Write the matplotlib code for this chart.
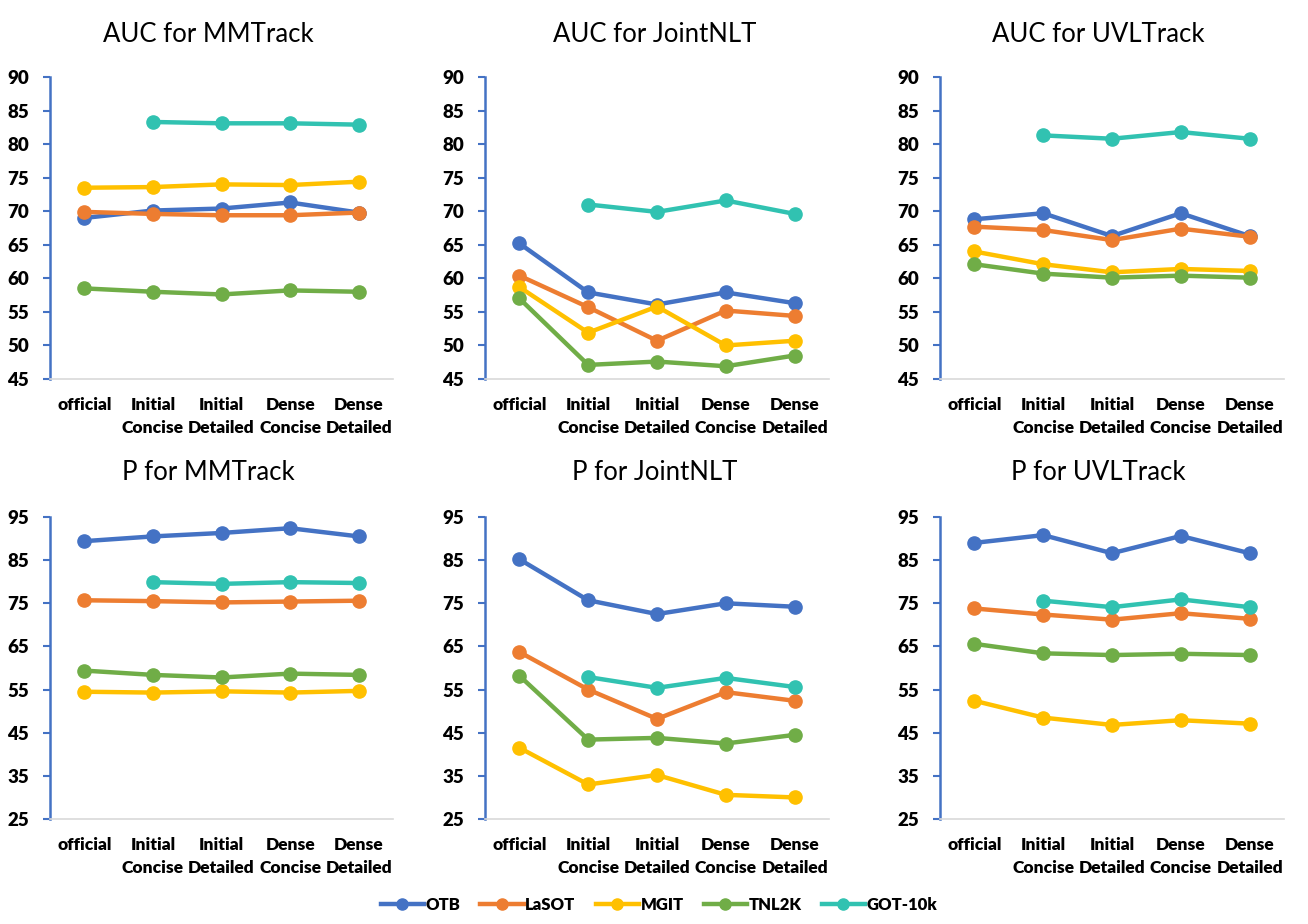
import numpy as np
import matplotlib
matplotlib.use("Agg")
import matplotlib.pyplot as plt
from matplotlib.lines import Line2D

plt.rcParams['font.family'] = ['Lato', 'DejaVu Sans']

categories = ["official", "Initial\nConcise", "Initial\nDetailed", "Dense\nConcise", "Dense\nDetailed"]
series = ["OTB", "LaSOT", "MGIT", "TNL2K", "GOT-10k"]
colors = ["#4472C4", "#ED7D31", "#FFC000", "#70AD47", "#31C2B1"]
nan = np.nan

# AUC values
auc_mmtrack = {
    "OTB":     [69.0, 70.1, 70.4, 71.3, 69.8],
    "LaSOT":   [69.9, 69.6, 69.4, 69.4, 69.8],
    "MGIT":    [73.5, 73.6, 74.0, 73.9, 74.4],
    "TNL2K":   [58.5, 58.0, 57.6, 58.2, 58.0],
    "GOT-10k": [nan, 83.3, 83.1, 83.1, 82.9],
}
auc_jointnlt = {
    "OTB":     [65.2, 57.9, 56.1, 57.9, 56.3],
    "LaSOT":   [60.4, 55.7, 50.7, 55.2, 54.4],
    "MGIT":    [58.7, 51.9, 55.8, 50.0, 50.7],
    "TNL2K":   [57.0, 47.1, 47.6, 46.9, 48.5],
    "GOT-10k": [nan, 71.0, 69.9, 71.6, 69.6],
}
auc_uvltrack = {
    "OTB":     [68.8, 69.7, 66.3, 69.7, 66.3],
    "LaSOT":   [67.7, 67.2, 65.7, 67.4, 66.2],
    "MGIT":    [64.0, 62.1, 60.9, 61.4, 61.1],
    "TNL2K":   [62.1, 60.7, 60.1, 60.4, 60.1],
    "GOT-10k": [nan, 81.3, 80.8, 81.8, 80.8],
}
# Precision values
p_mmtrack = {
    "OTB":     [89.4, 90.5, 91.3, 92.4, 90.5],
    "LaSOT":   [75.7, 75.5, 75.2, 75.4, 75.6],
    "MGIT":    [54.5, 54.3, 54.6, 54.3, 54.7],
    "TNL2K":   [59.4, 58.4, 57.8, 58.7, 58.4],
    "GOT-10k": [nan, 79.9, 79.5, 79.9, 79.7],
}
p_jointnlt = {
    "OTB":     [85.2, 75.7, 72.5, 75.0, 74.2],
    "LaSOT":   [63.7, 55.0, 48.2, 54.4, 52.4],
    "MGIT":    [41.5, 33.0, 35.2, 30.6, 30.0],
    "TNL2K":   [58.2, 43.4, 43.8, 42.5, 44.5],
    "GOT-10k": [nan, 57.9, 55.4, 57.7, 55.6],
}
p_uvltrack = {
    "OTB":     [89.0, 90.8, 86.6, 90.6, 86.6],
    "LaSOT":   [73.8, 72.4, 71.2, 72.7, 71.4],
    "MGIT":    [52.4, 48.5, 46.8, 47.9, 47.1],
    "TNL2K":   [65.6, 63.4, 63.0, 63.3, 63.0],
    "GOT-10k": [nan, 75.6, 74.1, 75.9, 74.1],
}

W, H = 1308, 924
fig = plt.figure(figsize=(W / 100, H / 100), dpi=100)

panels = [
    ("AUC for MMTrack", auc_mmtrack, 50, 393, 77, 379, (45, 90, 5), 208, 35),
    ("AUC for JointNLT", auc_jointnlt, 485, 829, 77, 379, (45, 90, 5), 655, 35),
    ("AUC for UVLTrack", auc_uvltrack, 940, 1284, 77, 379, (45, 90, 5), 1098, 35),
    ("P for MMTrack", p_mmtrack, 50, 393, 517, 819, (25, 95, 10), 208, 473),
    ("P for JointNLT", p_jointnlt, 485, 829, 517, 819, (25, 95, 10), 655, 473),
    ("P for UVLTrack", p_uvltrack, 940, 1284, 517, 819, (25, 95, 10), 1098, 473),
]

x = np.arange(len(categories))
for title, data, l, r, t, b, (lo, hi, step), tx, ty in panels:
    ax = fig.add_axes([l / W, 1 - b / H, (r - l) / W, (b - t) / H])
    for name, c in zip(series, colors):
        ax.plot(x, data[name], color=c, lw=3.2, marker='o', ms=9.5,
                solid_capstyle='round')
    ax.set_xlim(-0.5, len(categories) - 0.5)
    ax.set_ylim(lo, hi)
    ax.set_yticks(np.arange(lo, hi + 1, step))
    ax.set_xticks(x)
    ax.set_xticklabels(categories, fontsize=12.5, fontweight='heavy', linespacing=1.5)
    for lab in ax.get_yticklabels():
        lab.set_fontsize(13.5)
        lab.set_fontweight('heavy')
    for s in ['top', 'right']:
        ax.spines[s].set_visible(False)
    ax.spines['left'].set_color('#4472C4')
    ax.spines['left'].set_linewidth(1.8)
    ax.spines['bottom'].set_color('#D9D9D9')
    ax.spines['bottom'].set_linewidth(1.2)
    ax.tick_params(axis='y', color='#4472C4', length=5, width=1.5, pad=10)
    ax.tick_params(axis='x', length=0, pad=13)
    fig.text(tx / W, 1 - ty / H, title, ha='center', va='center', fontsize=18.5)

handles = [Line2D([0], [0], color=c, lw=3.2, marker='o', ms=8) for c in colors]
fig.legend(handles, series, loc='center', bbox_to_anchor=(659 / W, 1 - 905 / H),
           ncol=5, frameon=False, handlelength=2.6,
           columnspacing=1.2, handletextpad=0.1,
           prop={'weight': 'heavy', 'size': 12})

fig.savefig("out.png", dpi=100)
